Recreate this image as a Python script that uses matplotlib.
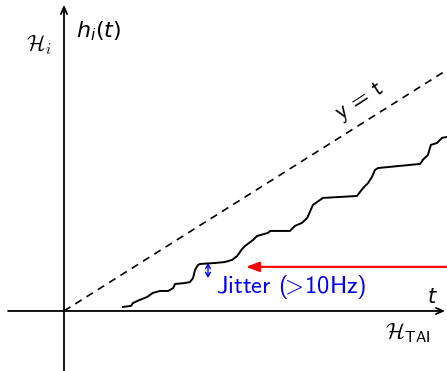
import numpy as np
import matplotlib.pyplot as plt

# clock reading h_i(t) against reference time t (arbitrary units)
t_vals = [1.54, 1.75, 1.80, 1.98, 2.17, 2.32, 2.51, 2.72, 2.85, 2.90,
          3.16, 3.29, 3.37, 3.42, 3.50, 3.55, 3.94, 4.20, 4.39, 4.52,
          4.65, 4.73, 4.94, 5.04, 5.33, 5.38, 5.90, 6.03, 6.21, 6.35,
          6.42, 6.50, 6.61, 6.76, 7.65, 7.73, 7.81, 7.94, 8.04, 8.12,
          8.20, 9.30, 9.37, 9.50, 9.58, 9.74, 9.87, 10.00]
h_vals = [0.17, 0.21, 0.33, 0.46, 0.58, 0.75, 0.83, 0.83, 0.95, 1.12,
          1.16, 1.20, 1.37, 1.70, 1.91, 1.95, 1.99, 2.03, 2.12, 2.28,
          2.57, 2.70, 2.95, 3.11, 3.24, 3.32, 3.32, 3.53, 3.65, 3.86,
          4.11, 4.40, 4.52, 4.69, 4.77, 4.94, 5.10, 5.31, 5.56, 5.85,
          5.93, 6.10, 6.27, 6.47, 6.89, 6.97, 7.18, 7.22]
ideal = [0.0, 10.0]

jitter_t = 3.76
jitter_span = [1.99, 1.37]
marker_y = 1.83
marker_span = [10.0, 4.75]

fig = plt.figure(figsize=(4.47, 3.71), dpi=100)
ax = fig.add_axes([0, 0, 1, 1])
ax.set_xlim(-1.671, 10.0)
ax.set_ylim(-2.49, 12.90)
ax.axis('off')

ax_style = dict(arrowstyle='->,head_length=0.5,head_width=0.22', lw=1.3, color='black',
                shrinkA=0, shrinkB=0)
ax.annotate('', xy=(9.95, 0), xytext=(-1.46, 0), arrowprops=ax_style)
ax.annotate('', xy=(0, 12.70), xytext=(0, -2.49), arrowprops=ax_style)

ax.plot(ideal, ideal, color='black', lw=1.2, linestyle=(0, (4.5, 3.5)))
ax.plot(t_vals, h_vals, color='black', lw=1.4)

# jitter marker
ax.annotate('', xy=(jitter_t, jitter_span[1]), xytext=(jitter_t, jitter_span[0]),
            arrowprops=dict(arrowstyle='<->,head_length=0.3,head_width=0.17',
                            lw=1.0, color='blue', shrinkA=0, shrinkB=0))
ax.text(3.97, 0.99, r'Jitter ($\!\!>\!$10Hz)', color='blue', fontsize=17.6,
        family='cmss10', math_fontfamily='cm', ha='left', va='center')

ax.annotate('', xy=(marker_span[1], marker_y), xytext=(marker_span[0], marker_y),
            arrowprops=dict(arrowstyle='-|>,head_length=0.8,head_width=0.3',
                            lw=1.5, color='red', shrinkA=0, shrinkB=0))

ax.text(-0.67, 11.04, r'$\mathcal{H}_i$', fontsize=15.5, math_fontfamily='cm',
        ha='center', va='center')
ax.text(0.89, 11.62, r'$h_i(t)$', fontsize=16, math_fontfamily='dejavusans',
        ha='center', va='center')
ax.text(9.61, 0.58, r'$t$', fontsize=15, math_fontfamily='dejavusans',
        ha='center', va='center')
ax.text(8.98, -0.91, r'$\mathcal{H}_{\mathsf{TAI}}$', fontsize=16,
        math_fontfamily='cm', ha='center', va='center')
ax.text(7.72, 8.72, 'y = t', fontsize=16.5, rotation=33, family='cmss10',
        ha='center', va='center', rotation_mode='anchor')

fig.savefig('out.png', dpi=100)
